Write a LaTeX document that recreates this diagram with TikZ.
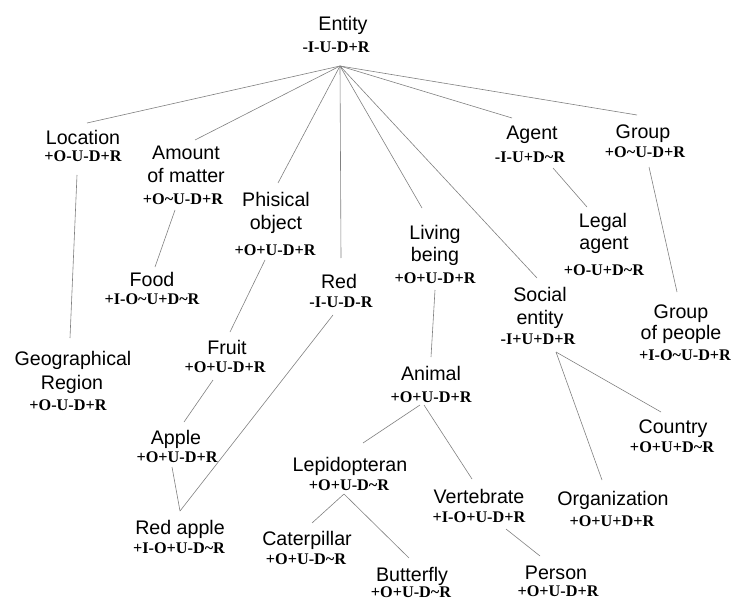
\documentclass[tikz,border=0pt]{standalone}
\usepackage{fontspec}
\setmainfont{Liberation Serif}
\newfontfamily\namefont{Liberation Sans}
\usetikzlibrary{calc}
\definecolor{linegray}{RGB}{128,128,128}
\newcommand\tld{\textasciitilde}
\tikzset{
  concept/.style={font=\namefont\fontsize{19.7}{22}\selectfont, inner sep=0pt, outer sep=0pt,
                  text height=14.1bp, text depth=0pt},
  flags/.style={font=\bfseries\fontsize{16.3}{18}\selectfont, inner sep=0pt, outer sep=0pt,
                text height=10.8bp, text depth=0pt},
  link/.style={draw=linegray, line width=0.6bp}
}
\begin{document}
\begin{tikzpicture}[x=1bp, y=-1bp]
\useasboundingbox (0,0) rectangle (734,601);

% concept names
\node[concept] (ent)    at (343,23)  {Entity};
\node[concept] (loc)    at (83,137)  {Location};
\node[concept] (amt1)   at (186,152) {Amount};
\node[concept] (amt2)   at (186,175) {of matter};
\node[concept] (phy1)   at (276,199) {Phisical};
\node[concept] (phy2)   at (276,222) {object};
\node[concept] (red)    at (339,281) {Red};
\node[concept] (liv1)   at (435,232) {Living};
\node[concept] (liv2)   at (435,254) {being};
\node[concept] (soc1)   at (540,294) {Social};
\node[concept] (soc2)   at (540,317) {entity};
\node[concept] (agt)    at (532,132) {Agent};
\node[concept] (grp)    at (643,131) {Group};
\node[concept] (leg1)   at (603,220) {Legal};
\node[concept] (leg2)   at (604,242) {agent};
\node[concept] (gop1)   at (681,311) {Group};
\node[concept] (gop2)   at (681,332) {of people};
\node[concept] (food)   at (152,279) {Food};
\node[concept] (fruit)  at (227,347) {Fruit};
\node[concept] (geo1)   at (73,358)  {Geographical};
\node[concept] (geo2)   at (72,382)  {Region};
\node[concept] (apple)  at (176,437) {Apple};
\node[concept] (redap)  at (180,527) {Red apple};
\node[concept] (animal) at (431,373) {Animal};
\node[concept] (lep)    at (350,464) {Lepidopteran};
\node[concept] (cat)    at (307,538) {Caterpillar};
\node[concept] (butt)   at (412,574) {Butterfly};
\node[concept] (vert)   at (479,496) {Vertebrate};
\node[concept] (person) at (556,572) {Person};
\node[concept] (country) at (673,426) {Country};
\node[concept] (org)    at (613,498) {Organization};

% property flags
\node[flags] (entc)    at (336,47)  {-I-U-D+R};
\node[flags] (locc)    at (83,156)  {+O-U-D+R};
\node[flags] (amtc)    at (183,199) {+O\tld U-D+R};
\node[flags] (phyc)    at (275,250) {+O+U-D+R};
\node[flags] (redc)    at (341,302) {-I-U-D-R};
\node[flags] (livc)    at (435,278) {+O+U-D+R};
\node[flags] (socc)    at (538,339) {-I+U+D+R};
\node[flags] (agtc)    at (530,157) {-I-U+D\tld R};
\node[flags] (grpc)    at (645,152) {+O\tld U-D+R};
\node[flags] (legc)    at (604,270) {+O-U+D\tld R};
\node[flags] (gopc)    at (685,355) {+I-O\tld U-D+R};
\node[flags] (foodc)   at (152,299) {+I-O\tld U+D\tld R};
\node[flags] (fruitc)  at (225,367) {+O+U-D+R};
\node[flags] (geoc)    at (68,405)  {+O-U-D+R};
\node[flags] (applec)  at (177,457) {+O+U-D+R};
\node[flags] (redapc)  at (179,548) {+I-O+U-D\tld R};
\node[flags] (animalc) at (431,397) {+O+U-D+R};
\node[flags] (lepc)    at (349,485) {+O+U-D\tld R};
\node[flags] (catc)    at (306,559) {+O+U-D\tld R};
\node[flags] (buttc)   at (411,592) {+O+U-D\tld R};
\node[flags] (vertc)   at (479,517) {+I-O+U-D+R};
\node[flags] (personc) at (558,591) {+O+U-D+R};
\node[flags] (countryc) at (672,447) {+O+U+D\tld R};
\node[flags] (orgc)    at (612,521) {+O+U+D+R};

% links from the root
\coordinate (hub) at ($(entc)+(4,19)$);
\draw[link] (hub) -- ($(loc)+(4,-14)$);
\draw[link] (hub) -- ($(amt1)+(9,-12)$);
\draw[link] (hub) -- ($(phy1)+(2,-16)$);
\draw[link] (hub) -- ($(red)+(2,-23)$);
\draw[link] (hub) -- ($(liv1)+(-13,-24)$);
\draw[link] (hub) -- ($(soc1)+(-3,-16)$);
\draw[link] (hub) -- ($(agt)+(-20,-14)$);
\draw[link] (hub) -- ($(grp)+(-6,-16)$);

% links further down
\draw[link] ($(locc)+(-6,19)$)    -- ($(geo1)+(-3,-20)$);
\draw[link] ($(amtc)+(-8,11)$)    -- ($(food)+(3,-12)$);
\draw[link] ($(phyc)+(-10,10)$)   -- ($(fruit)+(3,-15)$);
\draw[link] ($(fruitc)+(-12,13)$) -- ($(apple)+(8,-15)$);
\draw[link] ($(applec)+(-5,10)$)  -- ($(redap)+(0,-16)$);
\draw[link] ($(redc)+(-8,13)$)    -- ($(redap)+(0,-16)$);
\draw[link] ($(livc)+(0,12)$)     -- ($(animal)+(0,-16)$);
\draw[link] ($(animalc)+(-11,8)$) -- ($(lep)+(13,-21)$);
\draw[link] ($(animalc)+(-7,8)$)  -- ($(vert)+(-7,-17)$);
\draw[link] ($(lepc)+(-5,9)$)     -- ($(cat)+(5,-15)$);
\draw[link] ($(lepc)+(-5,9)$)     -- ($(butt)+(-3,-16)$);
\draw[link] ($(vertc)+(27,12)$)   -- ($(person)+(-16,-16)$);
\draw[link] ($(agtc)+(23,11)$)    -- ($(leg1)+(-16,-13)$);
\draw[link] ($(grpc)+(4,15)$)     -- ($(gop1)+(-4,-19)$);
\draw[link] ($(socc)+(18,13)$)    -- ($(org)+(-11,-18)$);
\draw[link] ($(socc)+(18,13)$)    -- ($(country)+(-12,-14)$);
\end{tikzpicture}
\end{document}
